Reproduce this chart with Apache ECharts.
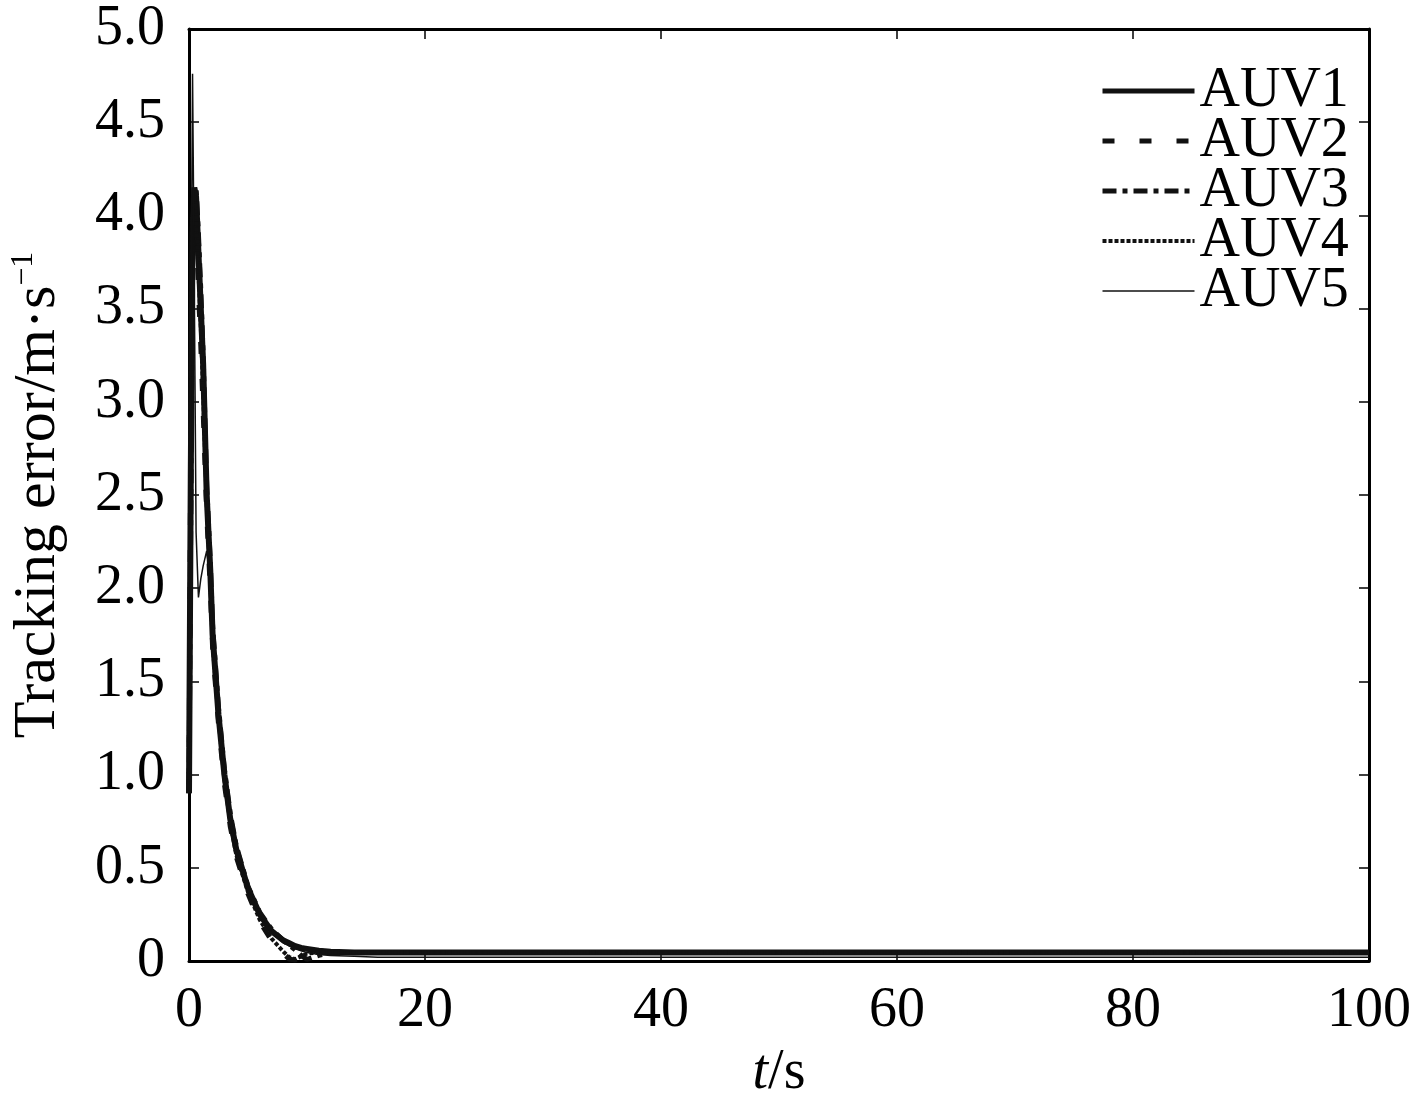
<!DOCTYPE html>
<html>
<head>
<meta charset="utf-8">
<title>Tracking error</title>
<script src="https://cdn.jsdelivr.net/npm/echarts@6/dist/echarts.min.js"></script>
<style>
  html, body { margin: 0; padding: 0; background: #fff; }
  #chart { width: 1417px; height: 1108px; }
</style>
</head>
<body>
<div id="chart"></div>
<script>
// time samples (s), shared by all AUVs
const times = [0, 0.15, 0.3, 0.45, 0.6, 0.8, 1.0, 1.2, 1.5, 1.8, 2.0, 2.5, 3.0, 3.5, 4.0, 5.0, 6.0, 7.0, 8.0, 8.5, 9.0, 9.5, 10, 11, 12, 14, 16, 20, 30, 40, 50, 60, 70, 80, 90, 100];

const auv1 = [0.9, 2.6, 3.9, 4.15, 4.1, 3.8, 3.5, 3.2, 2.5, 2.1, 1.75, 1.32, 1.0, 0.76, 0.6, 0.39, 0.25, 0.16, 0.11, 0.095, 0.08, 0.07, 0.065, 0.055, 0.05, 0.046, 0.045, 0.045, 0.045, 0.045, 0.045, 0.045, 0.045, 0.045, 0.045, 0.045];
const auv2 = [0.95, 2.8, 4.05, 4.12, 3.95, 3.6, 3.3, 2.95, 2.4, 2.0, 1.68, 1.27, 0.95, 0.72, 0.56, 0.36, 0.21, 0.11, 0.04, 0.01, 0.005, 0.02, 0.035, 0.045, 0.045, 0.045, 0.045, 0.045, 0.045, 0.045, 0.045, 0.045, 0.045, 0.045, 0.045, 0.045];
const auv3 = [0.9, 2.4, 3.7, 4.1, 4.15, 3.9, 3.6, 3.25, 2.55, 2.15, 1.8, 1.36, 1.03, 0.79, 0.62, 0.4, 0.26, 0.17, 0.11, 0.085, 0.06, 0.03, 0.008, 0.03, 0.045, 0.045, 0.045, 0.045, 0.045, 0.045, 0.045, 0.045, 0.045, 0.045, 0.045, 0.045];
const auv4 = [0.95, 2.7, 3.95, 4.1, 4.0, 3.7, 3.4, 3.05, 2.45, 2.05, 1.7, 1.3, 0.97, 0.74, 0.57, 0.37, 0.22, 0.12, 0.05, 0.02, 0.01, 0.025, 0.04, 0.045, 0.045, 0.045, 0.045, 0.045, 0.045, 0.045, 0.045, 0.045, 0.045, 0.045, 0.045, 0.045];
const auv5 = [0.9, 3.2, 4.76, 3.6, 2.3, 1.95, 2.05, 2.12, 2.2, 2.05, 1.72, 1.3, 0.98, 0.75, 0.58, 0.38, 0.24, 0.15, 0.1, 0.08, 0.065, 0.055, 0.045, 0.035, 0.03, 0.025, 0.02, 0.02, 0.02, 0.02, 0.02, 0.02, 0.02, 0.02, 0.02, 0.02];

const names = ['AUV1', 'AUV2', 'AUV3', 'AUV4', 'AUV5'];
const values = [auv1, auv2, auv3, auv4, auv5];

const FONT = 'Liberation Serif';
const INK = '#111';
const lineStyles = [
  { width: 6, type: 'solid' },
  { width: 5, type: [12, 25] },
  { width: 5, type: [14, 6, 5, 6] },
  { width: 4, type: [4, 2] },
  { width: 1.5, type: 'solid' }
];

const chart = echarts.init(document.getElementById('chart'));

const series = names.map((name, i) => ({
  name: name,
  type: 'line',
  showSymbol: false,
  symbol: 'none',
  animation: false,
  itemStyle: { color: INK },
  lineStyle: { color: INK, width: lineStyles[i].width, type: lineStyles[i].type },
  data: times.map((t, k) => [t, values[i][k]])
}));

const legendData = names.map((name, i) => ({
  name: name,
  itemStyle: { opacity: 0 },
  lineStyle: { color: INK, width: Math.min(lineStyles[i].width, 5), type: lineStyles[i].type, opacity: 1 }
}));

function frameAxis(extra) {
  return Object.assign({
    axisLine: { show: true, onZero: false, lineStyle: { color: '#000', width: 3 } },
    axisTick: { show: true, inside: true, length: 10, lineStyle: { color: '#000', width: 1.5 } },
    splitLine: { show: false }
  }, extra);
}

chart.setOption({
  backgroundColor: '#fff',
  animation: false,
  grid: { left: 189, right: 48, top: 29, bottom: 147 },
  legend: {
    orient: 'vertical',
    left: 1100,
    top: 63,
    padding: 0,
    itemWidth: 92,
    itemHeight: 20,
    itemGap: -6,
    data: legendData,
    textStyle: { fontFamily: FONT, fontSize: 56, color: '#000', lineHeight: 50 }
  },
  xAxis: [
    frameAxis({
      type: 'value',
      min: 0, max: 100, interval: 20,
      position: 'bottom',
      name: '{it|t}/s',
      nameLocation: 'middle',
      nameGap: 84,
      nameTextStyle: {
        fontFamily: FONT, fontSize: 56, color: '#000',
        rich: { it: { fontFamily: FONT, fontSize: 56, fontStyle: 'italic', color: '#000' } }
      },
      axisLabel: { fontFamily: FONT, fontSize: 56, color: '#000', margin: 22 }
    }),
    frameAxis({
      type: 'value',
      min: 0, max: 100, interval: 20,
      position: 'top',
      axisLabel: { show: false }
    })
  ],
  yAxis: [
    frameAxis({
      type: 'value',
      min: 0, max: 5, interval: 0.5,
      position: 'left',
      name: 'Tracking error/m·s{sup|−1}',
      nameLocation: 'middle',
      nameRotate: 90,
      nameGap: 121,
      nameTextStyle: {
        fontFamily: FONT, fontSize: 60, color: '#000', lineHeight: 60,
        rich: { sup: { fontFamily: FONT, fontSize: 32, color: '#000', verticalAlign: 'top', lineHeight: 60 } }
      },
      axisLabel: {
        fontFamily: FONT, fontSize: 56, color: '#000', margin: 24,
        formatter: v => (v === 0 ? '0' : v.toFixed(1))
      }
    }),
    frameAxis({
      type: 'value',
      min: 0, max: 5, interval: 0.5,
      position: 'right',
      axisLabel: { show: false }
    })
  ],
  series: series
});
</script>
</body>
</html>
